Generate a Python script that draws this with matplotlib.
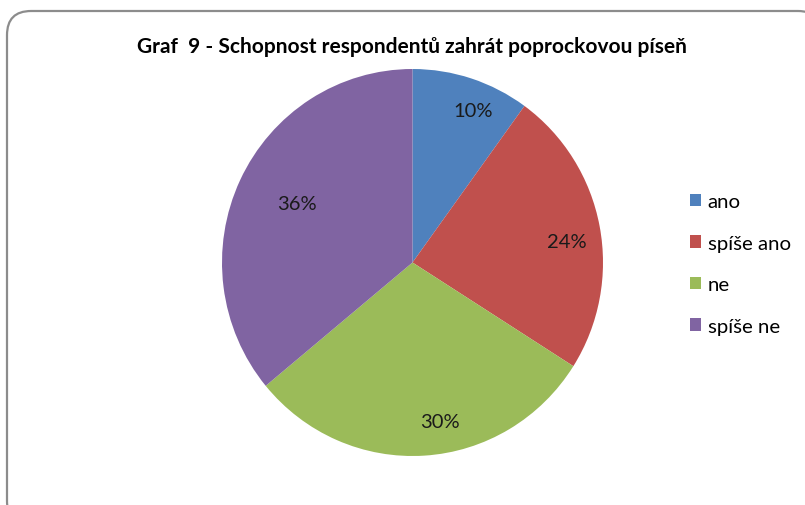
import matplotlib.pyplot as plt
from matplotlib.patches import FancyBboxPatch, Patch
import numpy as np

# data
categories = ['ano', 'spíše ano', 'ne', 'spíše ne']
shares = [10, 24, 30, 36]
colors = ['#4F81BD', '#C0504D', '#9BBB59', '#8064A2']
# label placement: distance from centre (fraction of radius) and
# angular nudge from the wedge middle, like Excel's best fit
label_dist = [0.845, 0.82, 0.835, 0.68]
label_nudge = [-4.0, -3.1, 6.2, -1.4]

plt.rcParams['font.family'] = ['Lato', 'DejaVu Sans']

W, H = 805, 506
fig = plt.figure(figsize=(W / 100, H / 100), dpi=100)

# rounded chart-area frame (right and bottom run off the image)
frame = FancyBboxPatch((7 / W, -20 / H), 815 / W, (H - 12 + 20) / H,
                       boxstyle='round,pad=0,rounding_size=0.03',
                       transform=fig.transFigure, facecolor='white',
                       edgecolor='#8c8c8c', linewidth=1.6,
                       mutation_aspect=W / H, zorder=-5)
fig.patches.append(frame)

# pie is very slightly taller than wide in the source image
cx, cy, rx, ry = 412.5, 263.5, 190.5, 193.5
ax = fig.add_axes([(cx - rx) / W, (H - cy - ry) / H, 2 * rx / W, 2 * ry / H])
wedges, _ = ax.pie(shares, colors=colors, startangle=90, counterclock=False,
                   radius=1, wedgeprops=dict(linewidth=0))
ax.set_xlim(-1, 1)
ax.set_ylim(-1, 1)
ax.set_aspect('auto')
ax.axis('off')

for w, val, d, nd in zip(wedges, shares, label_dist, label_nudge):
    ang = np.deg2rad((w.theta1 + w.theta2) / 2 + nd)
    ax.text(d * np.cos(ang), d * np.sin(ang), f'{val}%', ha='center',
            va='center', fontsize=14.5, color='#1a1a1a')

fig.text(412 / W, 1 - 47 / H,
         'Graf  9 - Schopnost respondentů zahrát poprockovou píseň',
         ha='center', va='center', fontsize=15, fontweight='bold')

handles = [Patch(facecolor=c, edgecolor='none') for c in colors]
fig.legend(handles, categories, loc='upper left',
           bbox_to_anchor=(680 / W, 1 - 184 / H), frameon=False,
           fontsize=14.7, handlelength=0.55, handleheight=0.55,
           handletextpad=0.3, labelspacing=1.2, borderpad=0)

fig.savefig('out.png', dpi=100)
